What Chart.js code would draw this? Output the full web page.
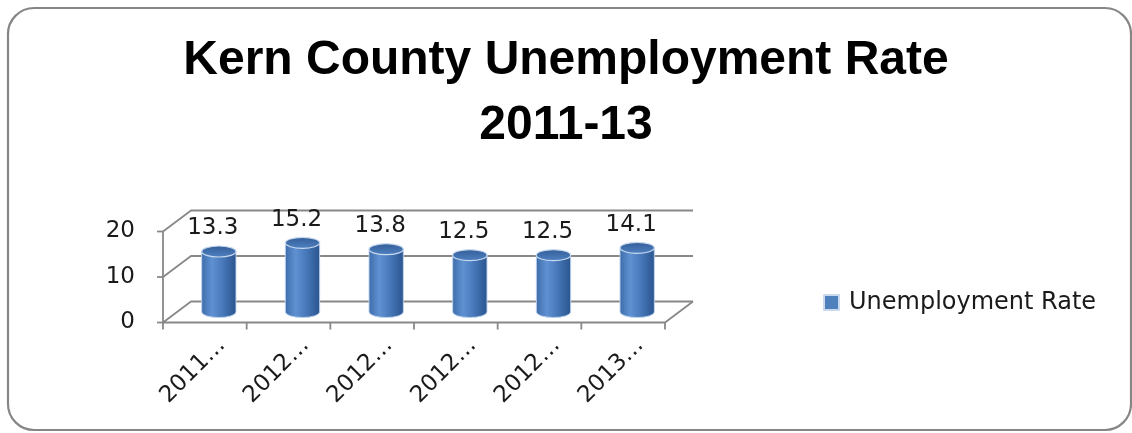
<!DOCTYPE html>
<html>
<head>
<meta charset="utf-8">
<script src="https://cdn.jsdelivr.net/npm/chart.js@4.4.0/dist/chart.umd.min.js"></script>
<style>
  html, body { margin: 0; padding: 0; background: #fff; }
</style>
</head>
<body>
<canvas id="chartCanvas" width="1132" height="433"></canvas>
<script>
const categories = ['2011…', '2012…', '2012…', '2012…', '2012…', '2013…'];
const rates = [13.3, 15.2, 13.8, 12.5, 12.5, 14.1];
const yTicks = [0, 10, 20];
const titleLines = ['Kern County Unemployment Rate', '2011-13'];
const seriesName = 'Unemployment Rate';

// depth of the 3-D box: the back wall sits DX px right and DY px up from the front
const DX = 28, DY = -21;
const SMALL_FONT = "'DejaVu Sans', sans-serif";

const chartCanvas = document.getElementById('chartCanvas');

// Draws the frame, the 3-D walls, the cylinders and the legend
const box3d = {
    id: 'box3d',
    beforeDraw(chart) {
        const ctx = chart.ctx;
        ctx.save();
        ctx.fillStyle = '#fff';
        ctx.fillRect(0, 0, chart.width, chart.height);
        ctx.beginPath();
        ctx.roundRect(8, 8, 1123, 422, 26);
        ctx.strokeStyle = '#868686';
        ctx.lineWidth = 2.2;
        ctx.stroke();
        ctx.restore();
    },
    beforeDatasetsDraw(chart) {
        const ctx = chart.ctx;
        const xs = chart.scales.x, ys = chart.scales.y;
        const hx = DX / 2, hy = DY / 2;
        const left = xs.getPixelForValue(-0.5);
        const right = xs.getPixelForValue(categories.length - 0.5);
        ctx.save();
        ctx.strokeStyle = '#888';
        ctx.lineWidth = 1.8;
        ctx.lineJoin = 'round';
        // gridlines: left side wall then along the back wall
        yTicks.forEach(v => {
            const py = ys.getPixelForValue(v);
            ctx.beginPath();
            ctx.moveTo(left - hx, py - hy);
            ctx.lineTo(left + hx, py + hy);
            ctx.lineTo(right + hx, py + hy);
            ctx.stroke();
            // tick mark on the front value axis
            ctx.beginPath();
            ctx.moveTo(left - hx - 6, py - hy);
            ctx.lineTo(left - hx, py - hy);
            ctx.stroke();
        });
        const y0 = ys.getPixelForValue(0);
        const yTop = ys.getPixelForValue(yTicks[yTicks.length - 1]);
        // front value axis
        ctx.beginPath();
        ctx.moveTo(left - hx, yTop - hy);
        ctx.lineTo(left - hx, y0 - hy);
        ctx.stroke();
        // floor front edge and right edge
        ctx.beginPath();
        ctx.moveTo(left - hx, y0 - hy);
        ctx.lineTo(right - hx, y0 - hy);
        ctx.lineTo(right + hx, y0 + hy);
        ctx.stroke();
        // category tick marks
        for (let i = 0; i <= categories.length; i++) {
            const px = xs.getPixelForValue(i - 0.5) - hx;
            ctx.beginPath();
            ctx.moveTo(px, y0 - hy);
            ctx.lineTo(px, y0 - hy + 7);
            ctx.stroke();
        }
        ctx.restore();
    },
    afterDatasetsDraw(chart) {
        const ctx = chart.ctx;
        const meta = chart.getDatasetMeta(0);
        const values = chart.data.datasets[0].data;
        ctx.save();
        meta.data.forEach((bar, i) => {
            const {x: cx, y: top, base, width} = bar.getProps(['x', 'y', 'base', 'width'], true);
            const rx = width / 2, ry = 5.5;

            const grad = ctx.createLinearGradient(cx - rx, 0, cx + rx, 0);
            grad.addColorStop(0, '#3f6dab');
            grad.addColorStop(0.3, '#5f91d2');
            grad.addColorStop(0.6, '#4979ba');
            grad.addColorStop(1, '#2a558f');

            // body
            ctx.beginPath();
            ctx.moveTo(cx - rx, top);
            ctx.lineTo(cx - rx, base);
            ctx.ellipse(cx, base, rx, ry, 0, Math.PI, 0, true);
            ctx.lineTo(cx + rx, top);
            ctx.closePath();
            ctx.fillStyle = grad;
            ctx.fill();
            ctx.strokeStyle = 'rgba(190, 212, 240, 0.9)';
            ctx.lineWidth = 1;
            ctx.stroke();

            // top cap
            ctx.beginPath();
            ctx.ellipse(cx, top, rx, ry, 0, 0, Math.PI * 2);
            const capGrad = ctx.createLinearGradient(0, top - ry, 0, top + ry);
            capGrad.addColorStop(0, '#345f9a');
            capGrad.addColorStop(1, '#4f80c0');
            ctx.fillStyle = capGrad;
            ctx.fill();
            ctx.strokeStyle = '#c8d9ef';
            ctx.lineWidth = 1.2;
            ctx.stroke();

            // value label
            ctx.fillStyle = '#1a1a1a';
            ctx.font = '23px ' + SMALL_FONT;
            ctx.textAlign = 'center';
            ctx.textBaseline = 'alphabetic';
            ctx.fillText(values[i].toFixed(1), cx - 6, top - 17);
        });

        // legend
        const ds = chart.data.datasets[0];
        ctx.fillStyle = '#4f81bd';
        ctx.fillRect(825, 296, 13, 13);
        ctx.strokeStyle = '#b9cde8';
        ctx.lineWidth = 1.5;
        ctx.strokeRect(824, 295, 15, 15);
        ctx.fillStyle = '#1a1a1a';
        ctx.font = '24px ' + SMALL_FONT;
        ctx.textAlign = 'left';
        ctx.textBaseline = 'middle';
        ctx.fillText(ds.label, 849, 303);
        ctx.restore();
    }
};

const tickFont = { family: SMALL_FONT, size: 23 };

new Chart(chartCanvas, {
    type: 'bar',
    data: {
        labels: categories,
        datasets: [{
            label: seriesName,
            data: rates,
            backgroundColor: 'rgba(0,0,0,0)',
            borderWidth: 0,
            barPercentage: 0.82,
            categoryPercentage: 0.5
        }]
    },
    options: {
        responsive: false,
        animation: false,
        layout: { padding: 0 },
        plugins: {
            legend: { display: false },
            tooltip: { enabled: false },
            title: {
                display: true,
                text: titleLines,
                color: '#000',
                font: { family: "'Liberation Sans', Arial, sans-serif", weight: 'bold', size: 48, lineHeight: 65 / 48 },
                padding: { top: 28, bottom: 63 }
            }
        },
        scales: {
            x: {
                grid: { display: false, drawTicks: false },
                border: { display: false },
                ticks: {
                    autoSkip: false,
                    minRotation: 45,
                    maxRotation: 45,
                    padding: 20,
                    labelOffset: 3,
                    color: '#1a1a1a',
                    font: tickFont
                },
                afterFit(scale) { scale.height = 433 - 312; }
            },
            y: {
                min: 0,
                max: 20,
                grid: { display: false, drawTicks: false },
                border: { display: false },
                ticks: {
                    stepSize: 10,
                    padding: 42,
                    labelOffset: -DY / 2,
                    color: '#1a1a1a',
                    font: tickFont
                },
                afterFit(scale) { scale.width = 177; }
            },
            // empty axis that keeps the right-hand side free for the legend
            side: {
                position: 'right',
                grid: { display: false, drawTicks: false },
                border: { display: false },
                ticks: { display: false },
                afterFit(scale) { scale.width = 1132 - 679; }
            }
        }
    },
    plugins: [box3d]
});
</script>
</body>
</html>
